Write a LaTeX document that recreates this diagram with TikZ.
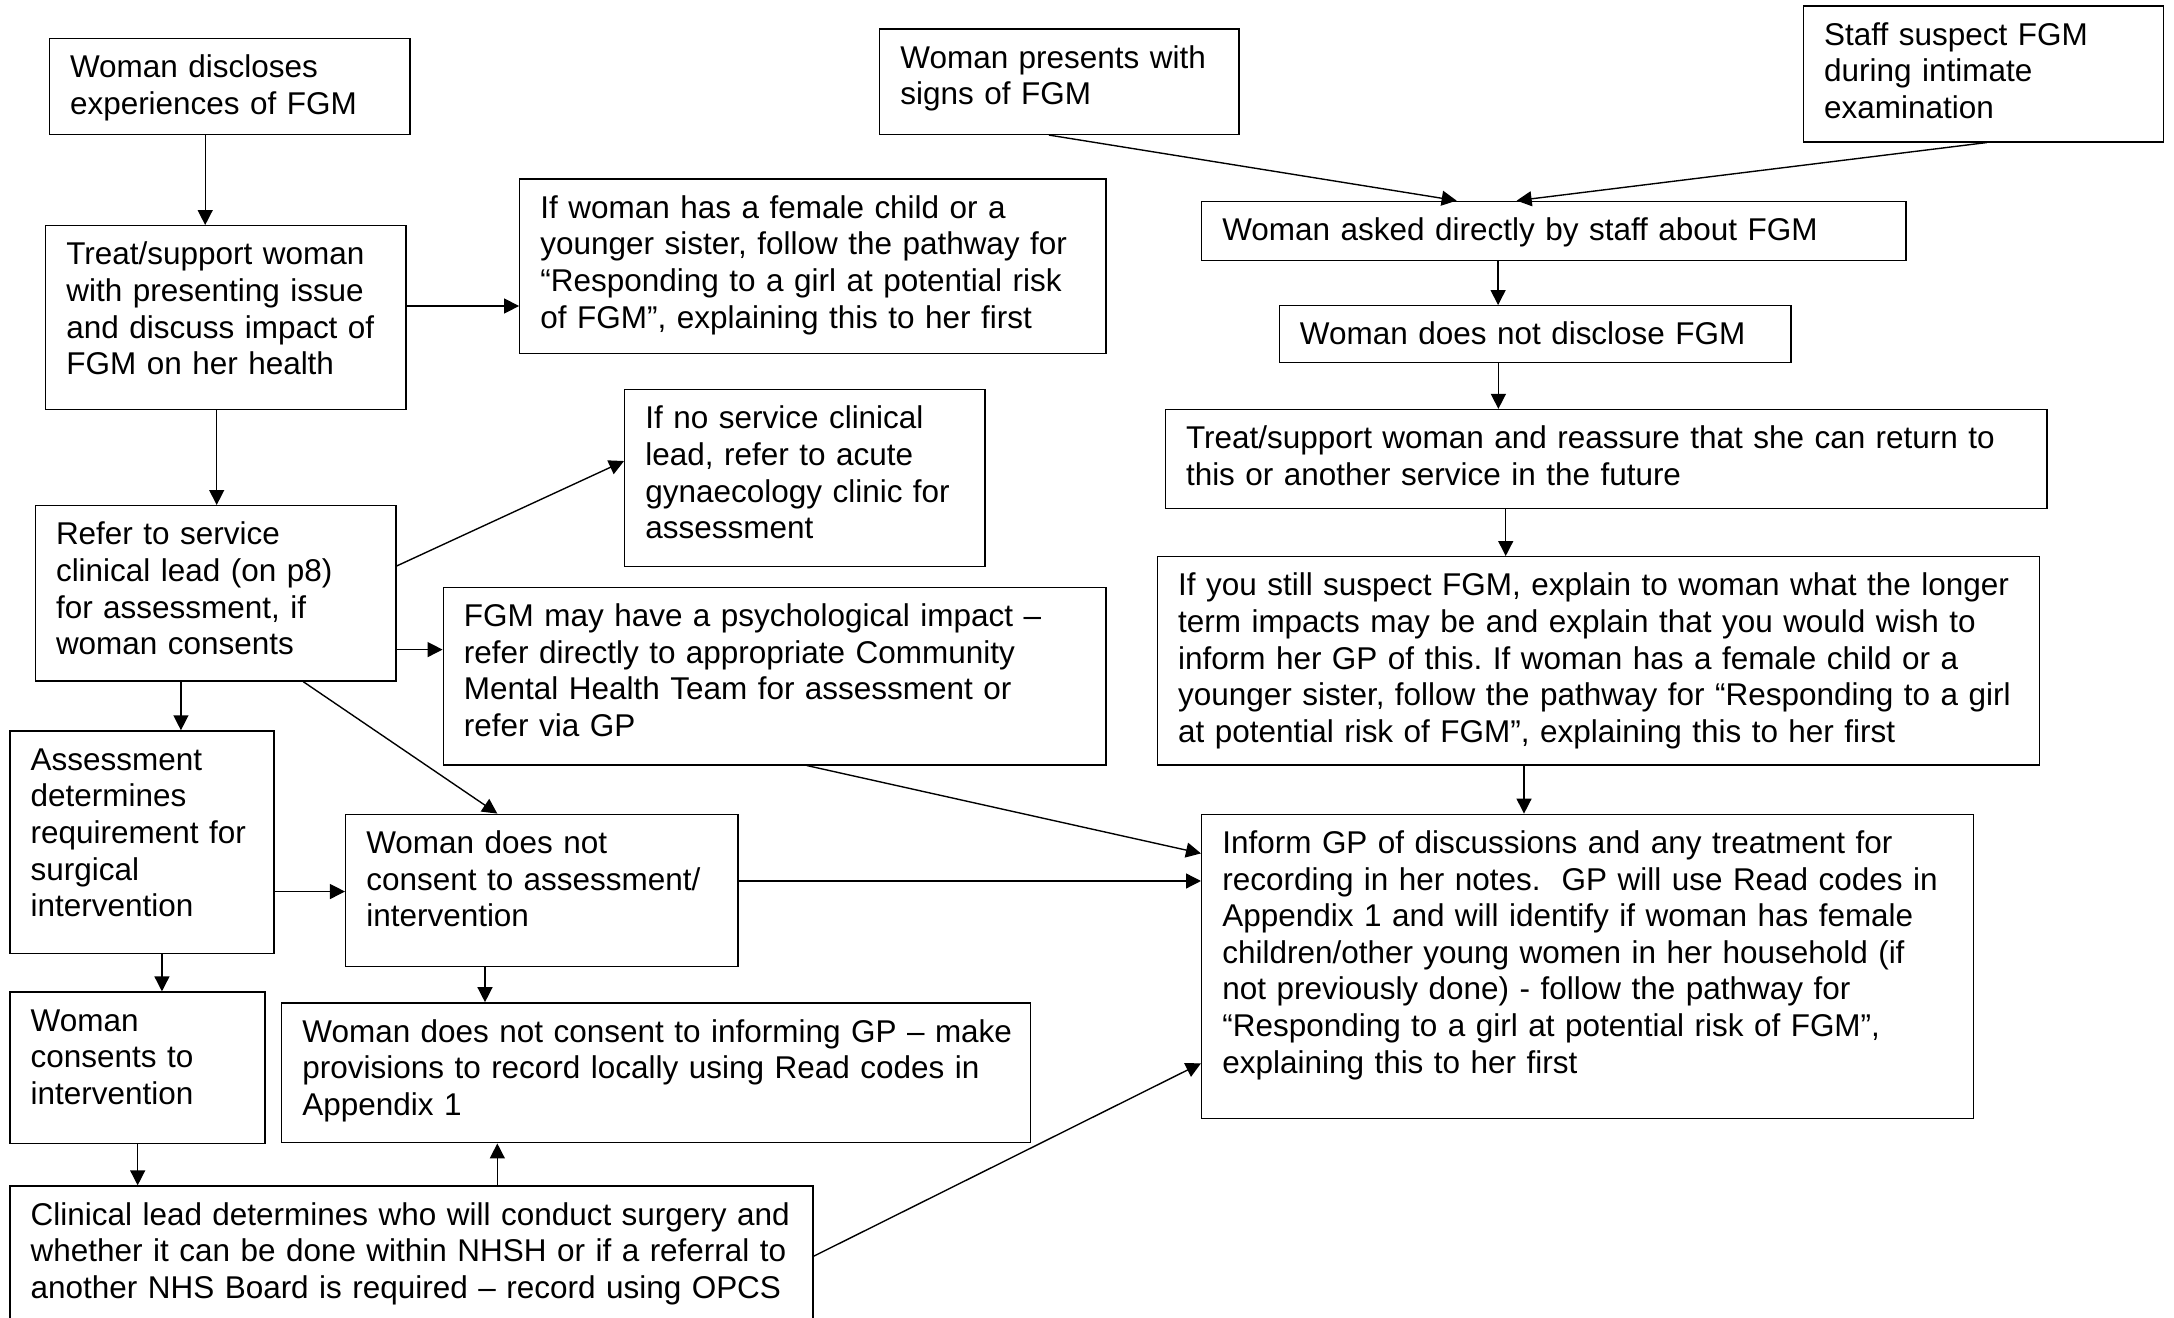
\documentclass[tikz,border=0pt]{standalone}
\usepackage{fontspec}
\setmainfont{Liberation Sans}
\usetikzlibrary{arrows.meta,fit,calc}
\newcommand{\flowfont}{\fontsize{11.35pt}{13.2pt}\selectfont\frenchspacing}
\tikzset{
  box/.style={draw, line width=0.5pt, rectangle, inner sep=0pt},
  txt/.style={anchor=base west, inner sep=0pt, align=left, font=\flowfont},
  arr/.style={line width=0.5pt, -{Triangle[length=5.4pt,width=5.4pt]}}
}
\begin{document}
\begin{tikzpicture}[x=0.5pt,y=-0.5pt]
\useasboundingbox (0,0) rectangle (1568,950);
\clip (0,0) rectangle (1568,950);
\fill[white] (0,0) rectangle (1568,950);

% ---------- boxes ----------
\node[box, fit={(35.6,27.6) (295.7,96.9)}] (disclose) {};
\node[txt, text width=121pt] (disclose-t) at ($(disclose.north west)+(15,28.8)$) {Woman discloses\\experiences of FGM};

\node[box, fit={(33,162.8) (292.8,295.2)}] (treat1) {};
\node[txt, text width=121pt] (treat1-t) at ($(treat1.north west)+(15,28.8)$) {Treat/support woman\\with presenting issue\\and discuss impact of\\FGM on her health};

\node[box, fit={(374.9,129.1) (797.6,255)}] (ifchild) {};
\node[txt, text width=202pt] (ifchild-t) at ($(ifchild.north west)+(15,28.8)$) {If woman has a female child or a\\younger sister, follow the pathway for\\“Responding to a girl at potential risk\\of FGM”, explaining this to her first};

\node[box, fit={(25.5,364.7) (285.6,491.2)}] (refer) {};
\node[txt, text width=121pt] (refer-t) at ($(refer.north west)+(15,28.8)$) {Refer to service\\clinical lead (on p8)\\for assessment, if\\woman consents};

\node[box, fit={(450.6,281.1) (710.4,408.5)}] (noclin) {};
\node[txt, text width=121pt] (noclin-t) at ($(noclin.north west)+(15,28.8)$) {If no service clinical\\lead, refer to acute\\gynaecology clinic for\\assessment};

\node[box, fit={(319.7,423.6) (797.6,551.6)}] (psych) {};
\node[txt, text width=230pt] (psych-t) at ($(psych.north west)+(15,28.8)$) {FGM may have a psychological impact –\\refer directly to appropriate Community\\Mental Health Team for assessment or\\refer via GP};

\node[box, fit={(7.2,527.2) (197.6,687.8)}] (assess) {};
\node[txt, text width=86pt] (assess-t) at ($(assess.north west)+(15,28.8)$) {Assessment\\determines\\requirement for\\surgical\\intervention};

\node[box, fit={(249.3,587.3) (532.4,697)}] (noconsent) {};
\node[txt, text width=133pt] (noconsent-t) at ($(noconsent.north west)+(15,28.8)$) {Woman does not\\consent to assessment/\\intervention};

\node[box, fit={(7.2,715.5) (191.1,824.9)}] (consents) {};
\node[txt, text width=83pt] (consents-t) at ($(consents.north west)+(15,28.8)$) {Woman\\consents to\\intervention};

\node[box, fit={(203.2,723.3) (743.3,824.2)}] (noinform) {};
\node[txt, text width=261pt] (noinform-t) at ($(noinform.north west)+(15,28.8)$) {Woman does not consent to informing GP – make\\provisions to record locally using Read codes in\\Appendix 1};

\node[box, fit={(7.2,855.4) (586.4,960)}] (clinlead) {};
\node[txt, text width=281pt] (clinlead-t) at ($(clinlead.north west)+(15,28.8)$) {Clinical lead determines who will conduct surgery and\\whether it can be done within NHSH or if a referral to\\another NHS Board is required – record using OPCS};

\node[box, fit={(634.5,20.8) (893.7,96.9)}] (presents) {};
\node[txt, text width=121pt] (presents-t) at ($(presents.north west)+(15,28.8)$) {Woman presents with\\signs of FGM};

\node[box, fit={(1300.8,4.4) (1560.4,102.3)}] (staff) {};
\node[txt, text width=121pt] (staff-t) at ($(staff.north west)+(15,28.8)$) {Staff suspect FGM\\during intimate\\examination};

\node[box, fit={(866.7,145.2) (1374.7,188)}] (asked) {};
\node[txt, text width=245pt] (asked-t) at ($(asked.north west)+(15,28.8)$) {Woman asked directly by staff about FGM};

\node[box, fit={(922.7,220.5) (1291.7,261.6)}] (notdisc) {};
\node[txt, text width=176pt] (notdisc-t) at ($(notdisc.north west)+(15,28.8)$) {Woman does not disclose FGM};

\node[box, fit={(840.5,295.4) (1476.4,366.9)}] (treat2) {};
\node[txt, text width=309pt] (treat2-t) at ($(treat2.north west)+(15,28.8)$) {Treat/support woman and reassure that she can return to\\this or another service in the future};

\node[box, fit={(834.8,401.5) (1470.8,551.6)}] (still) {};
\node[txt, text width=309pt] (still-t) at ($(still.north west)+(15,28.8)$) {If you still suspect FGM, explain to woman what the longer\\term impacts may be and explain that you would wish to\\inform her GP of this. If woman has a female child or a\\younger sister, follow the pathway for “Responding to a girl\\at potential risk of FGM”, explaining this to her first};

\node[box, fit={(866.7,587.3) (1423.5,806.8)}] (inform) {};
\node[txt, text width=270pt] (inform-t) at ($(inform.north west)+(15,28.8)$) {Inform GP of discussions and any treatment for\\recording in her notes.~ GP will use Read codes in\\Appendix 1 and will identify if woman has female\\children/other young women in her household (if\\not previously done) - follow the pathway for\\“Responding to a girl at potential risk of FGM”,\\explaining this to her first};

% ---------- connectors ----------
\draw[arr] (disclose.south -| 148,0) -- (treat1.north -| 148,0);
\draw[arr] (treat1.east |- 0,220.7) -- (ifchild.west |- 0,220.7);
\draw[arr] (treat1.south -| 156.3,0) -- (refer.north -| 156.3,0);
\draw[arr] (refer.east |- 0,408.2) -- (noclin.west |- 0,332.5);
\draw[arr] (refer.east |- 0,468.5) -- (psych.west |- 0,468.5);
\draw[arr] (refer.south -| 130.5,0) -- (assess.north -| 130.5,0);
\draw[arr] (refer.south -| 218.8,0) -- (noconsent.north -| 358.7,0);
\draw[arr] (assess.east |- 0,643) -- (noconsent.west |- 0,643);
\draw[arr] (assess.south -| 116.8,0) -- (consents.north -| 116.8,0);
\draw[arr] (noconsent.south -| 349.8,0) -- (noinform.north -| 349.8,0);
\draw[arr] (noconsent.east |- 0,635.4) -- (inform.west |- 0,635.4);
\draw[arr] (psych.south -| 581.8,0) -- (inform.west |- 0,615.5);
\draw[arr] (consents.south -| 99.3,0) -- (clinlead.north -| 99.3,0);
\draw[arr] (clinlead.north -| 358.7,0) -- (noinform.south -| 358.7,0);
\draw[arr] (clinlead.east |- 0,906) -- (inform.west |- 0,766.9);
\draw[arr] (presents.south -| 756.5,0) -- (asked.north -| 1050.6,0);
\draw[arr] (staff.south -| 1433,0) -- (asked.north -| 1093.9,0);
\draw[arr] (asked.south -| 1080.5,0) -- (notdisc.north -| 1080.5,0);
\draw[arr] (notdisc.south -| 1080.7,0) -- (treat2.north -| 1080.7,0);
\draw[arr] (treat2.south -| 1086,0) -- (still.north -| 1086,0);
\draw[arr] (still.south -| 1099.2,0) -- (inform.north -| 1099.2,0);
\end{tikzpicture}
\end{document}
